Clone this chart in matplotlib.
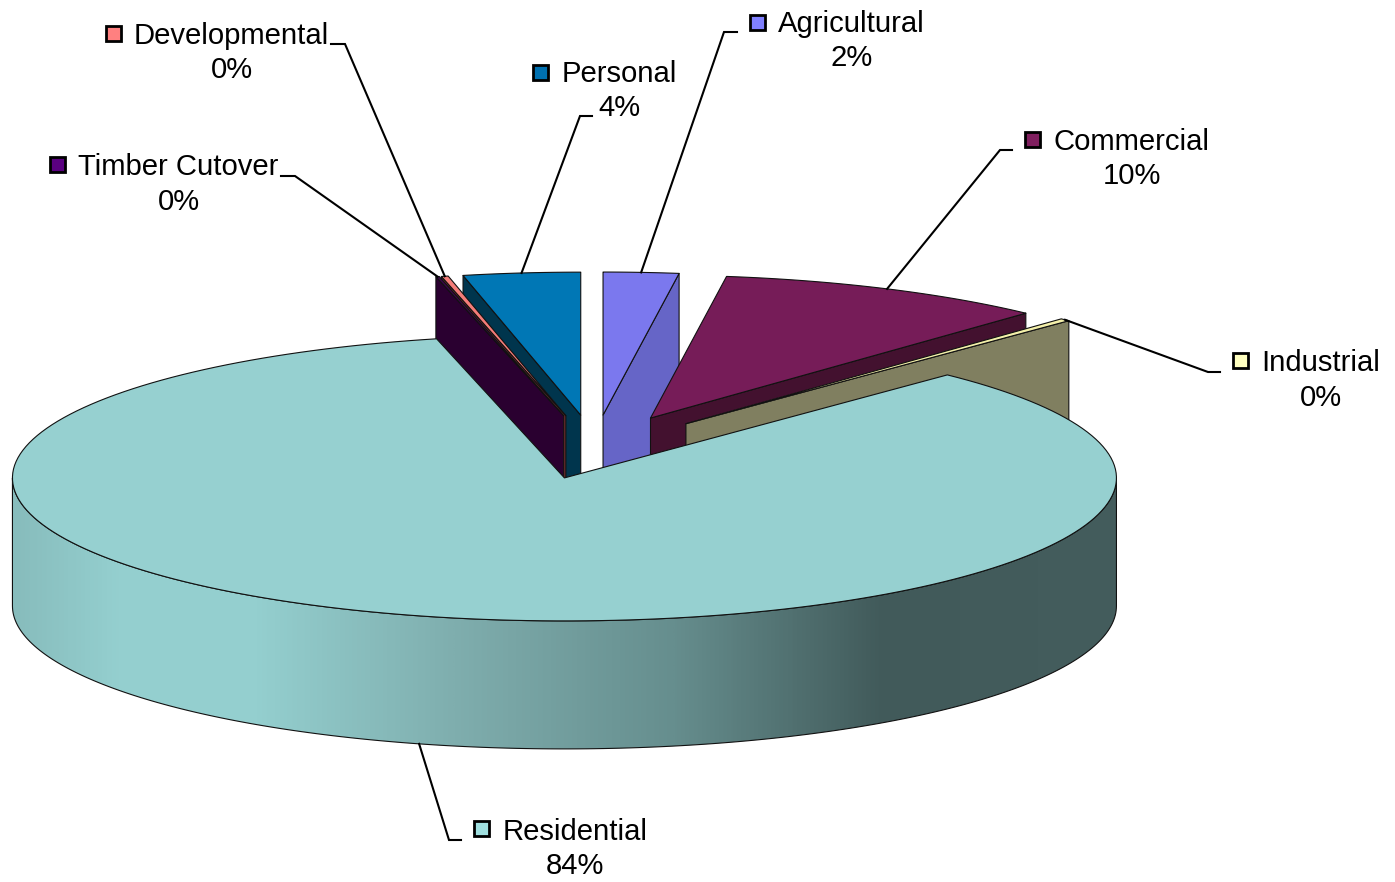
import numpy as np
import matplotlib
matplotlib.use('Agg')
import matplotlib.pyplot as plt
from matplotlib.colors import LinearSegmentedColormap
from matplotlib.patches import Polygon, Rectangle

# values go clockwise from 12 o'clock, same order as the sheet
names = ['Agricultural', 'Commercial', 'Industrial', 'Residential',
         'Timber Cutover', 'Developmental', 'Personal']
values = [2.2, 9.7, 0.3, 84.08, 0.1, 0.2, 3.42]
percent_labels = ['2%', '10%', '0%', '84%', '0%', '0%', '4%']

top_colors = ['#7B78EE', '#761C58', '#F4F0AA', '#96D0D0', '#3A0648', '#F47C78', '#0077B5']
wall_colors = ['#6665C7', '#43112F', '#807F60', '#96D0D0', '#2A0030', '#7A3030', '#00354D']
key_colors = ['#8080FF', '#801F5F', '#FFFFC0', '#A0E0E0', '#5A0080', '#FF8080', '#0070B0']

# layout in pixels
cx, cy = 597, 447
rx, ry = 552, 143
depth = 128
explode = 0.224
nudge_x = [-2.5, 0.5, 4, 0, -5, -4, -3]
label_x = [851.5, 1131.5, 1320.5, 575.5, 178.5, 231.5, 619.5]
label_y = [24, 142, 363, 832, 167, 36, 74]
percent_x = [851.5, 1131.5, 1320.5, 574.5, 178.5, 231.5, 619.5]
key_x = [757, 1032, 1240, 481, 57, 113, 540]
key_y = [22, 139, 360, 828.5, 164.5, 33, 72]
elbows = [[(724, 32), (737, 32)], [(1000, 150), (1012, 150)], [(1208, 372), (1220, 372)],
          [(449, 840), (461, 840)], [(295, 176), (281, 176)], [(345, 44), (331, 44)],
          [(580, 116), (592, 116)]]

plt.rcParams['font.family'] = ['Liberation Sans', 'DejaVu Sans']
fig = plt.figure(figsize=(13.95, 8.82), dpi=100)
ax = fig.add_axes([0, 0, 1, 1])


def point(x0, y0, deg):
    a = np.radians(deg)
    return x0 + rx * np.cos(a), y0 - ry * np.sin(a)


def arc(x0, y0, a1, a2):
    t = np.radians(np.linspace(a1, a2, 200))
    return np.column_stack([x0 + rx * np.cos(t), y0 - ry * np.sin(t)])


# angles of the slices
fracs = np.array(values) / sum(values)
ends = 90 - np.cumsum(fracs) * 360
starts = np.r_[90, ends[:-1]]
mids = (starts + ends) / 2
apex_x = [cx + explode * rx * np.cos(np.radians(m)) + n for m, n in zip(mids, nudge_x)]
apex_y = [cy - explode * ry * np.sin(np.radians(m)) for m in mids]

res = names.index('Residential')
edge = dict(edgecolor='#111111', linewidth=0.8, joinstyle='round')

# back slices first, residential has to be on top of them
for i in [0, 6, 5, 4, 1, 2]:
    ax_, ay_ = apex_x[i], apex_y[i]
    for ang, cw in [(starts[i], False), (ends[i], True)]:
        a = (ang + 360) % 360
        if (cw and a < 90) or (not cw and a > 90):
            px, py = point(ax_, ay_, a)
            ax.add_patch(Polygon([(ax_, ay_), (px, py), (px, py + depth), (ax_, ay_ + depth)],
                                 facecolor=wall_colors[i], **edge))
    top = np.vstack([[ax_, ay_], arc(ax_, ay_, starts[i], ends[i])])
    ax.add_patch(Polygon(top, facecolor=top_colors[i], **edge))

# residential side with the gradient
rcx, rcy = apex_x[res], apex_y[res]
side = np.vstack([arc(rcx, rcy, 180, 360), arc(rcx, rcy + depth, 360, 180)])
side_patch = Polygon(side, facecolor='none', **edge)
ax.add_patch(side_patch)
shade = LinearSegmentedColormap.from_list('shade', [(0, '#87BCBC'), (0.1, '#95D0D0'), (0.22, '#94CFCF'),
                                                    (0.4, '#7FAEAE'), (0.6, '#668E8E'),
                                                    (0.79, '#415A5A'), (1, '#445D5D')])
im = ax.imshow(np.linspace(0, 1, 512).reshape(1, -1), cmap=shade, aspect='auto',
               extent=[rcx - rx, rcx + rx, rcy + depth + ry + 5, rcy - 5])
im.set_clip_path(side_patch)

res_top = np.vstack([[rcx, rcy], arc(rcx, rcy, starts[res], ends[res])])
ax.add_patch(Polygon(res_top, facecolor=top_colors[res], zorder=3, **edge))

# leader lines and labels
for i in range(len(names)):
    if i == res:
        sx, sy = point(rcx, rcy + depth, mids[i])
    else:
        sx, sy = point(apex_x[i], apex_y[i], mids[i])
    xs = [sx] + [p[0] for p in elbows[i]]
    ys = [sy] + [p[1] for p in elbows[i]]
    ax.plot(xs, ys, color='black', lw=1.5, zorder=4, solid_joinstyle='miter')
    ax.add_patch(Rectangle((key_x[i] - 7.5, key_y[i] - 7.5), 15, 15, facecolor=key_colors[i],
                           edgecolor='black', linewidth=2, zorder=5))
    ax.text(label_x[i], label_y[i], names[i], fontsize=21.1, ha='center', va='center', color='black', zorder=5)
    ax.text(percent_x[i], label_y[i] + 34.5, percent_labels[i], fontsize=21.1, ha='center', va='center',
            color='black', zorder=5)

ax.set_xlim(0, 1395)
ax.set_ylim(882, 0)
ax.axis('off')
fig.savefig('out.png', dpi=100)
